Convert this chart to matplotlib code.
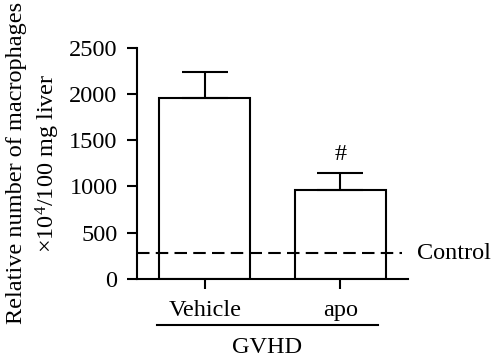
import matplotlib
matplotlib.use("Agg")
import matplotlib.pyplot as plt
import matplotlib.transforms as mtransforms

# Data
groups = ["Vehicle", "apo"]
means = [1960, 960]
errors = [280, 180]
control_level = 280
yticks = [0, 500, 1000, 1500, 2000, 2500]

plt.rcParams["font.family"] = ["Liberation Serif", "DejaVu Serif"]
plt.rcParams["mathtext.fontset"] = "custom"
plt.rcParams["mathtext.rm"] = "Liberation Serif"
plt.rcParams["mathtext.it"] = "Liberation Serif:italic"

fs = 17.5

fig = plt.figure(figsize=(4.94, 3.61), dpi=100)
ax = fig.add_axes([0.2773, 0.2271, 0.5486, 0.6413])

x = list(range(len(groups)))
ax.bar(x, means, width=0.67, color="white", edgecolor="black", linewidth=1.5, zorder=2)
ax.errorbar(x, means, yerr=[[0] * len(errors), errors], fmt="none",
            ecolor="black", elinewidth=1.5, capsize=16.5, capthick=1.5, zorder=3)

# control reference line (drawn over the bars)
ax.axhline(control_level, xmin=0, xmax=0.977, color="black", linestyle=(0, (6, 3)),
           linewidth=1.5, zorder=4)
ax.text(1.563, control_level, "Control", fontsize=fs, va="center", ha="left", clip_on=False)

# significance mark
ax.text(1, means[1] + errors[1] + 90, "#", fontsize=fs, ha="center", va="bottom")

ax.set_xlim(-0.5, 1.5)
ax.set_ylim(0, 2500)
ax.set_yticks(yticks)
ax.set_xticks(x)
ax.set_xticklabels(groups)
ax.tick_params(axis="both", labelsize=fs, width=1.5, length=7, direction="out")
ax.tick_params(axis="y", pad=7)
ax.tick_params(axis="x", pad=8)

for side in ["top", "right"]:
    ax.spines[side].set_visible(False)
for side in ["left", "bottom"]:
    ax.spines[side].set_linewidth(1.5)

ax.set_ylabel("Relative number of macrophages\n" + r"×10$^{4}$/100 mg liver",
              fontsize=fs, linespacing=1.35, labelpad=5)

# GVHD group bracket
trans = mtransforms.blended_transform_factory(ax.transData, ax.transAxes)
ax.plot([-0.349, 1.275], [-0.198, -0.198], color="black", linewidth=1.5,
        transform=trans, clip_on=False)
ax.text(0.463, -0.25, "GVHD", fontsize=fs, ha="center", va="top", transform=trans)

fig.savefig("out.png", dpi=100)
